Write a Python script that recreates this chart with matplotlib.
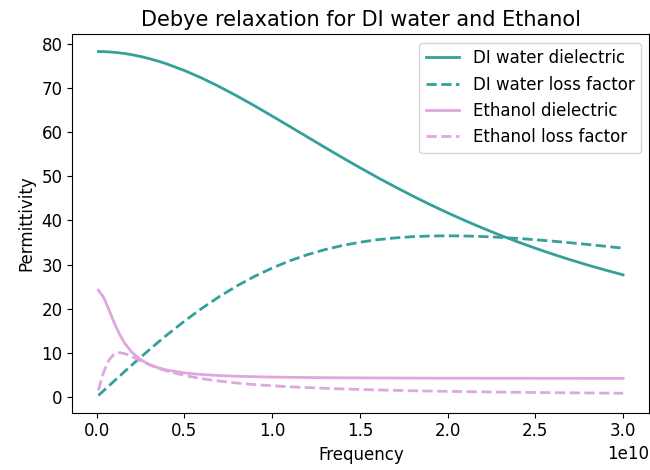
import matplotlib.pyplot as plt

# frequency in units of 1e10 Hz
freq = [0.01, 0.04, 0.07, 0.1, 0.13, 0.16, 0.2, 0.25, 0.3, 0.35, 0.4, 0.5, 0.6,
        0.7, 0.8, 0.9, 1.0, 1.1, 1.2, 1.3, 1.4, 1.5, 1.6, 1.7, 1.8, 1.9, 2.0,
        2.1, 2.2, 2.3, 2.4, 2.5, 2.6, 2.7, 2.8, 2.9, 3.0]

water_eps = [78.2, 78.17, 78.11, 78.02, 77.89, 77.74, 77.48, 77.08, 76.59, 76.03,
             75.39, 73.91, 72.17, 70.23, 68.13, 65.91, 63.6, 61.25, 58.88, 56.52,
             54.19, 51.92, 49.71, 47.58, 45.53, 43.57, 41.7, 39.92, 38.23, 36.63,
             35.12, 33.69, 32.34, 31.06, 29.86, 28.73, 27.66]
water_loss = [0.37, 1.46, 2.55, 3.64, 4.73, 5.80, 7.23, 8.98, 10.71, 12.40,
              14.04, 17.18, 20.09, 22.76, 25.17, 27.32, 29.2, 30.83, 32.21, 33.36,
              34.30, 35.04, 35.61, 36.02, 36.30, 36.45, 36.5, 36.46, 36.33, 36.15,
              35.90, 35.61, 35.28, 34.92, 34.53, 34.12, 33.69]

ethanol_eps = [24.18, 22.56, 19.78, 16.83, 14.25, 12.19, 10.17, 8.48, 7.38, 6.64,
               6.12, 5.47, 5.10, 4.87, 4.72, 4.61, 4.53, 4.48, 4.43, 4.40,
               4.37, 4.35, 4.33, 4.32, 4.30, 4.29, 4.28, 4.28, 4.27, 4.26,
               4.26, 4.25, 4.25, 4.25, 4.24, 4.24, 4.24]
ethanol_loss = [1.54, 5.65, 8.39, 9.71, 10.05, 9.84, 9.18, 8.23, 7.33, 6.56,
                5.91, 4.90, 4.16, 3.61, 3.18, 2.84, 2.57, 2.34, 2.15, 1.99,
                1.85, 1.73, 1.62, 1.53, 1.44, 1.37, 1.30, 1.24, 1.18, 1.13,
                1.09, 1.04, 1.00, 0.97, 0.93, 0.90, 0.87]

f_hz = [f * 1e10 for f in freq]

fig, ax = plt.subplots(figsize=(6.5, 4.7), dpi=100)
# right spine sits right at the image edge
fig.subplots_adjust(left=0.111, right=0.999, top=0.927, bottom=0.122)

teal = '#35a09a'
plum = '#e0a6e0'
ax.plot(f_hz, water_eps, color=teal, lw=2, label='DI water dielectric')
ax.plot(f_hz, water_loss, color=teal, lw=2, ls='--', label='DI water loss factor')
ax.plot(f_hz, ethanol_eps, color=plum, lw=2, label='Ethanol dielectric')
ax.plot(f_hz, ethanol_loss, color=plum, lw=2, ls='--', label='Ethanol loss factor')

ax.set_title('Debye relaxation for DI water and Ethanol', fontsize=15)
ax.set_xlabel('Frequency', fontsize=12)
ax.set_ylabel('Permittivity', fontsize=12)
ax.tick_params(labelsize=12)
ax.xaxis.get_offset_text().set_fontsize(12)
ax.legend(loc='upper right', fontsize=12)

plt.savefig('out.png')
